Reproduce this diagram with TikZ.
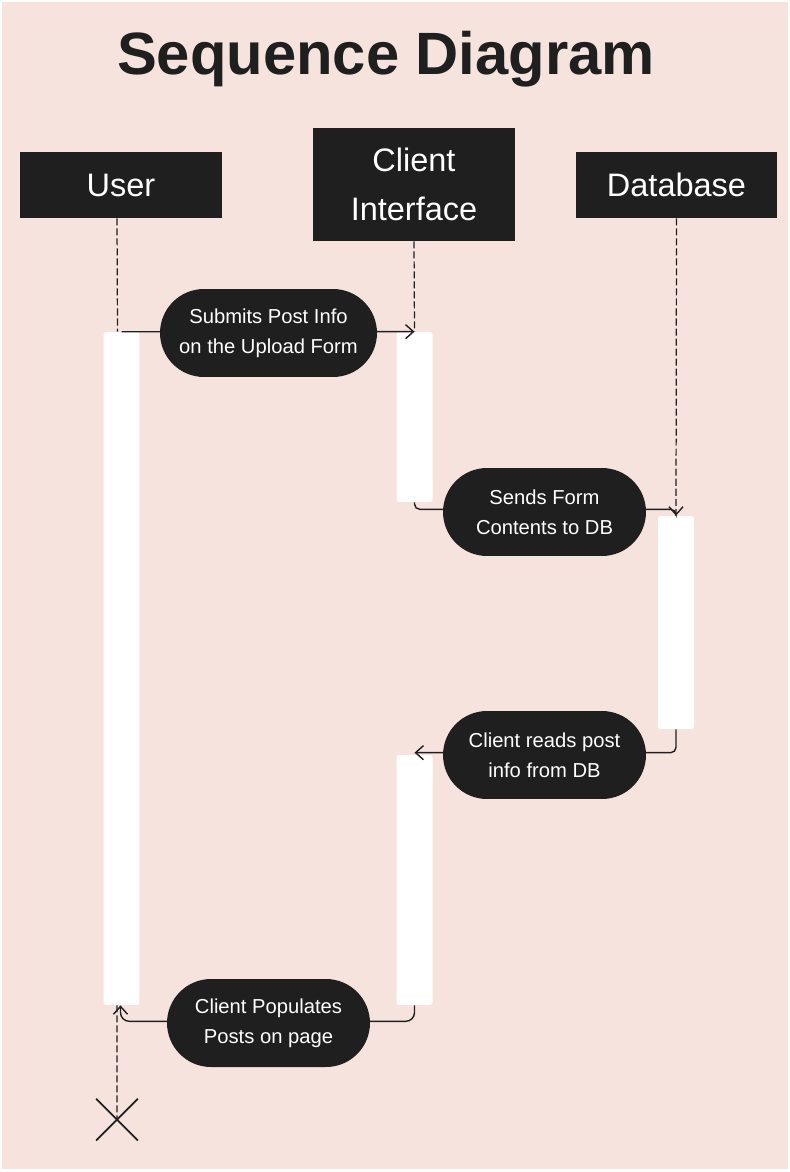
\documentclass[tikz,border=0pt]{standalone}
\usepackage{fontspec}
\setmainfont{Liberation Sans}
\usetikzlibrary{arrows.meta,shapes.misc}
\definecolor{bgpink}{HTML}{F7E3DE}
\definecolor{boxgrey}{HTML}{1F1F1F}
\tikzset{actor/.style={fill=boxgrey, text=white, minimum width=4.04cm,
    minimum height=1.32cm, inner sep=0pt, align=center,
    font=\fontsize{18.5}{27.8}\selectfont},
  pill/.style={fill=boxgrey, text=white, rounded corners=0.88cm,
    minimum width=4.06cm, minimum height=1.76cm, align=center,
    font=\fontsize{11.5}{17}\selectfont},
  bar/.style={fill=white, rounded corners=1.5pt, minimum width=0.72cm,
    inner sep=0pt},
  lifeline/.style={draw=boxgrey, line width=0.7pt,
    dash pattern=on 4pt off 1.7pt},
  msg/.style={draw=boxgrey, line width=0.8pt, rounded corners=3pt,
    -{Straight Barb[length=4.5pt,width=8pt]}}
}

\begin{document}
\begin{tikzpicture}[x=0.02cm, y=-0.02cm]
    \useasboundingbox (0,0) rectangle (790,1172);
    \fill[bgpink] (2,2) rectangle (788,1169);
    \draw (386,75) node[anchor=base, text=boxgrey,
    font=\fontsize{34}{40}\selectfont\bfseries] (title) {Sequence Diagram};
    % actors
    \draw (121,185) node[actor] (user) {User};
    \draw (414,184.5) node[actor, minimum height=2.26cm]
    (client) {Client\\Interface};
    \draw (676.5,185) node[actor] (db) {Database};
    % activation bars
    \draw (121.5,668.5) node[bar, minimum height=13.46cm] (ubar) {};
    \draw (414.5,417) node[bar, minimum height=3.4cm] (cbar1) {};
    \draw (414.5,880) node[bar, minimum height=5cm] (cbar2) {};
    \draw (676,622.5) node[bar, minimum height=4.26cm] (dbar) {};
    \draw (117,1119.5) node[cross out, draw=boxgrey, line width=1pt,
    minimum size=0.8cm, inner sep=0pt] (stop) {};
    % lifelines
    \draw[lifeline] ([xshift=-0.08cm]user.south)
    -- ([xshift=-0.08cm]ubar.north);
    \draw[lifeline] (client.south) -- (cbar1.north);
    \draw[lifeline] (db.south) -- (dbar.north);
    \draw[lifeline] ([xshift=-0.09cm]ubar.south) -- (stop.center);
    % messages
    \draw[msg] (ubar.north) -- (cbar1.north);
    \draw[msg] (cbar1.south) -- ++(0,7) -| (dbar.north);
    \draw[msg] (dbar.south) |- ([yshift=0.04cm]cbar2.north);
    \draw[msg, rounded corners=5pt] (cbar2.south) -- ++(0,16)
    -| ([xshift=-0.02cm]ubar.south);
    \draw (268.5,333) node[pill, minimum width=4.34cm]
    (m1) {Submits Post Info\\on the Upload Form};
    \draw (544.5,512) node[pill] (m2) {Sends Form\\Contents to DB};
    \draw (544.5,755) node[pill] (m3) {Client reads post\\info from DB};
    \draw (268.5,1023) node[pill] (m4) {Client Populates\\Posts on page};
\end{tikzpicture}
\end{document}
